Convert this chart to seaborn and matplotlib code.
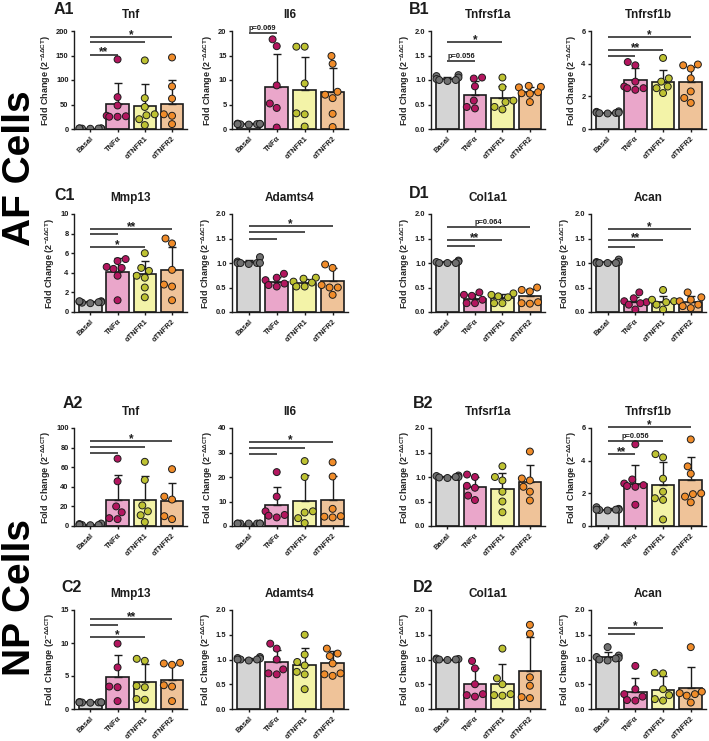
import numpy as np
import pandas as pd
import matplotlib
matplotlib.use('Agg')
import matplotlib.pyplot as plt
import seaborn as sns

# ---------------- categories / colours ----------------
groups = ['Basal', 'TNFα', 'αTNFR1', 'αTNFR2']
bar_colors = ['#D4D4D4', '#F59BCB', '#FFFF9C', '#FDC38B']
dot_colors = ['#707070', '#B3165F', '#BEC232', '#F08C2A']

# ---------------- AF cells ----------------
af_tnf_mean = [1.0, 51, 47.5, 51]
af_tnf_sd = [0.6, 43, 45, 50]
af_tnf_pts = [[0.5, 0.8, 1.0, 1.2, 0.9, 1.1, 1.3], [142, 65, 48, 27, 26, 25, 25],
              [140, 63, 45, 30, 28, 20, 8], [146, 87, 62, 30, 27, 10]]
af_tnf_sig = [(1, 152, '**'), (2, 178, ''), (3, 188, '*')]

af_il6_mean = [1.0, 8.6, 7.9, 7.5]
af_il6_sd = [0.2, 6.8, 6.8, 5.0]
af_il6_pts = [[0.9, 1.0, 1.1, 1.0, 0.95, 1.05, 1.0], [18.3, 16.9, 8.9, 5.2, 4.3, 0.3],
              [16.8, 16.8, 9.3, 3.2, 3.0, 0.5], [14.9, 13.3, 7.6, 7.0, 6.3, 3.1, 0.4]]
af_il6_sig = [(1, 19.5, 'p=0.069')]

af_tnfrsf1a_mean = [1.03, 0.70, 0.63, 0.75]
af_tnfrsf1a_sd = [0.04, 0.27, 0.25, 0.11]
af_tnfrsf1a_pts = [[1.08, 1.10, 1.05, 1.02, 1.00, 1.00, 0.98], [1.05, 1.03, 0.87, 0.58, 0.45, 0.42],
                   [1.05, 0.85, 0.58, 0.55, 0.45, 0.40], [0.88, 0.86, 0.85, 0.75, 0.73, 0.72, 0.55]]
af_tnfrsf1a_sig = [(1, 1.38, 'p=0.056'), (2, 1.78, '*')]

af_tnfrsf1b_mean = [1.0, 2.98, 2.85, 2.9]
af_tnfrsf1b_sd = [0.06, 0.74, 0.77, 0.92]
af_tnfrsf1b_pts = [[1.05, 1.08, 1.0, 0.98, 0.95, 0.97, 1.0], [4.1, 3.9, 2.9, 2.6, 2.5, 2.5, 2.4],
                   [4.35, 3.1, 2.9, 2.6, 2.5, 2.2], [3.95, 3.9, 3.7, 3.1, 2.3, 1.9, 1.6]]
af_tnfrsf1b_sig = [(1, 4.48, ''), (2, 4.85, '**'), (3, 5.62, '*')]

af_mmp13_mean = [1.02, 4.1, 3.85, 4.25]
af_mmp13_sd = [0.1, 1.4, 1.4, 2.35]
af_mmp13_pts = [[1.1, 1.0, 0.95, 1.05, 1.0, 0.9, 1.1], [5.4, 5.2, 4.6, 4.5, 4.4, 3.7, 1.2],
                [6.0, 4.5, 4.2, 3.7, 3.5, 2.5, 1.5], [7.5, 7.0, 4.3, 2.8, 2.6, 1.2]]
af_mmp13_sig = [(1, 7.93, ''), (2, 6.62, '*'), (3, 8.45, '**')]

af_adamts4_mean = [1.02, 0.62, 0.60, 0.64]
af_adamts4_sd = [0.05, 0.10, 0.08, 0.25]
af_adamts4_pts = [[1.12, 1.03, 1.0, 1.0, 1.0, 0.98, 1.0], [0.78, 0.70, 0.65, 0.58, 0.55, 0.52],
                  [0.70, 0.68, 0.62, 0.60, 0.52, 0.52], [0.97, 0.90, 0.55, 0.50, 0.50, 0.35]]
af_adamts4_sig = [(1, 1.49, ''), (2, 1.63, ''), (3, 1.75, '*')]

af_col1a1_mean = [1.02, 0.27, 0.28, 0.32]
af_col1a1_sd = [0.03, 0.10, 0.08, 0.15]
af_col1a1_pts = [[1.05, 1.03, 1.02, 1.0, 1.0, 1.0], [0.40, 0.35, 0.33, 0.25, 0.18, 0.18],
                 [0.38, 0.35, 0.32, 0.30, 0.18, 0.18], [0.50, 0.45, 0.42, 0.20, 0.18, 0.17]]
af_col1a1_sig = [(1, 1.35, ''), (2, 1.47, '**'), (3, 1.73, 'p=0.064')]

af_acan_mean = [1.02, 0.21, 0.20, 0.21]
af_acan_sd = [0.03, 0.10, 0.13, 0.11]
af_acan_pts = [[1.07, 1.02, 1.02, 1.0, 1.0, 1.0, 1.0], [0.40, 0.28, 0.22, 0.20, 0.18, 0.15, 0.05],
               [0.45, 0.25, 0.22, 0.20, 0.15, 0.05], [0.40, 0.30, 0.25, 0.22, 0.15, 0.12, 0.08]]
af_acan_sig = [(1, 1.33, ''), (2, 1.46, '**'), (3, 1.70, '*')]

# ---------------- NP cells ----------------
np_tnf_mean = [1.5, 27, 27, 25.3]
np_tnf_sd = [0.8, 25, 24, 19]
np_tnf_pts = [[1.0, 2.0, 1.5, 2.5, 1.0, 0.8, 1.2], [68.7, 45.6, 20, 14, 8, 7],
              [65.5, 47, 21, 15, 11, 4], [58, 30, 27, 10, 7]]
np_tnf_sig = [(1, 74.5, ''), (2, 80.6, ''), (3, 86.4, '*')]

np_il6_mean = [1.0, 8.5, 10.3, 10.6]
np_il6_sd = [0.1, 7.5, 10.7, 9.9]
np_il6_pts = [[1.0, 1.0, 1.0, 1.0, 1.0, 1.0, 1.0], [22, 12, 6, 4.5, 4.2, 3.5],
              [26.5, 20, 6, 5.5, 3.2, 1.2], [26, 20.2, 7, 4, 3.8, 3.5]]
np_il6_sig = [(1, 29.3, ''), (2, 31.8, ''), (3, 34.3, '*')]

np_tnfrsf1a_mean = [1.0, 0.80, 0.75, 0.90]
np_tnfrsf1a_sd = [0.02, 0.20, 0.33, 0.35]
np_tnfrsf1a_pts = [[1.03, 1.02, 1.0, 1.0, 0.99, 0.98], [1.05, 1.0, 0.82, 0.78, 0.62, 0.53],
                   [1.22, 1.0, 0.93, 0.70, 0.50, 0.28], [1.52, 0.97, 0.93, 0.80, 0.70, 0.52]]
np_tnfrsf1a_sig = []

np_tnfrsf1b_mean = [1.0, 2.6, 2.5, 2.8]
np_tnfrsf1b_sd = [0.08, 1.15, 1.42, 1.4]
np_tnfrsf1b_pts = [[1.15, 1.05, 1.0, 1.0, 0.98, 0.95, 1.0], [5.0, 2.85, 2.6, 2.5, 2.45, 2.4, 1.3],
                   [4.4, 4.2, 2.9, 2.1, 1.7, 1.6, 0.4], [5.3, 3.65, 3.2, 2.0, 1.95, 1.8, 1.45]]
np_tnfrsf1b_sig = [(1, 4.43, '**'), (2, 5.18, 'p=0.056'), (3, 6.06, '*')]

np_mmp13_mean = [1.0, 4.9, 4.1, 4.4]
np_mmp13_sd = [0.05, 3.3, 2.7, 2.3]
np_mmp13_pts = [[1.0, 1.05, 0.95, 1.0, 1.02, 0.98, 1.0], [9.9, 6.3, 3.4, 3.3, 1.2],
                [7.6, 7.3, 3.5, 3.3, 1.5, 1.4], [7.0, 6.9, 6.7, 3.6, 3.4, 1.2]]
np_mmp13_sig = [(1, 12.7, ''), (2, 10.9, '*'), (3, 13.6, '**')]

np_adamts4_mean = [1.0, 0.95, 0.89, 0.92]
np_adamts4_sd = [0.03, 0.25, 0.35, 0.25]
np_adamts4_pts = [[1.05, 1.03, 1.02, 1.0, 1.0, 0.98, 1.0], [1.32, 1.22, 1.0, 0.80, 0.72, 0.70],
                  [1.5, 1.1, 0.95, 0.88, 0.75, 0.70, 0.40], [1.22, 1.12, 1.07, 0.92, 0.72, 0.70, 0.67]]
np_adamts4_sig = []

np_col1a1_mean = [1.0, 0.50, 0.51, 0.77]
np_col1a1_sd = [0.02, 0.32, 0.39, 0.68]
np_col1a1_pts = [[1.02, 1.01, 1.0, 1.0, 1.0, 0.99], [0.97, 0.82, 0.50, 0.30, 0.28, 0.25],
                 [1.22, 0.62, 0.50, 0.30, 0.28, 0.27], [1.70, 1.52, 0.64, 0.47, 0.24, 0.22]]
np_col1a1_sig = []

np_acan_mean = [1.05, 0.35, 0.39, 0.43]
np_acan_sd = [0.10, 0.27, 0.27, 0.41]
np_acan_pts = [[1.25, 1.08, 1.05, 1.03, 1.0, 0.98, 1.02], [0.87, 0.40, 0.30, 0.25, 0.18, 0.17],
               [0.73, 0.72, 0.40, 0.28, 0.20, 0.17], [1.25, 0.35, 0.32, 0.30, 0.27, 0.13]]
np_acan_sig = [(1, 1.52, ''), (2, 1.63, '*')]

titles_row = [['Tnf', 'Il6', 'Tnfrsf1a', 'Tnfrsf1b'],
              ['Mmp13', 'Adamts4', 'Col1a1', 'Acan'],
              ['Tnf', 'Il6', 'Tnfsrf1a', 'Tnfrsf1b'],
              ['Mmp13', 'Adamts4', 'Col1a1', 'Acan']]
panel_letters = ['A1', 'B1', 'C1', 'D1', 'A2', 'B2', 'C2', 'D2']

# ---------------- style ----------------
sns.set_theme(style='ticks')
plt.rcParams['font.family'] = ['Liberation Sans', 'DejaVu Sans']
plt.rcParams['font.weight'] = 'bold'
plt.rcParams['mathtext.fontset'] = 'custom'
plt.rcParams['mathtext.rm'] = 'Liberation Sans:bold'
plt.rcParams['mathtext.bf'] = 'Liberation Sans:bold'
plt.rcParams['mathtext.it'] = 'Liberation Sans:bold:italic'
plt.rcParams['mathtext.sf'] = 'Liberation Sans:bold'
INK = '#1c1c1c'

W, H = 709, 741
fig = plt.figure(figsize=(W / 100, H / 100), dpi=100)

col_x = [(74, 187), (232, 348), (431, 545), (591, 706)]
row_y = [(31, 129), (214, 312), (428, 526), (610, 709)]

ylab_af = 'Fold Change (2$^{\\mathbf{-\\Delta\\Delta CT}}$)'
ylab_np = 'Fold  Change (2$^{\\mathbf{-\\Delta\\Delta CT}}$)'

panels = [
    # row 0
    dict(mean=af_tnf_mean, sd=af_tnf_sd, pts=af_tnf_pts, sig=af_tnf_sig, top=200, step=50, dec=0, yl=ylab_af),
    dict(mean=af_il6_mean, sd=af_il6_sd, pts=af_il6_pts, sig=af_il6_sig, top=20, step=5, dec=0, yl=ylab_af),
    dict(mean=af_tnfrsf1a_mean, sd=af_tnfrsf1a_sd, pts=af_tnfrsf1a_pts, sig=af_tnfrsf1a_sig, top=2.0, step=0.5, dec=1, yl=ylab_af),
    dict(mean=af_tnfrsf1b_mean, sd=af_tnfrsf1b_sd, pts=af_tnfrsf1b_pts, sig=af_tnfrsf1b_sig, top=6, step=2, dec=0, yl=ylab_af),
    # row 1
    dict(mean=af_mmp13_mean, sd=af_mmp13_sd, pts=af_mmp13_pts, sig=af_mmp13_sig, top=10, step=2, dec=0, yl=ylab_af),
    dict(mean=af_adamts4_mean, sd=af_adamts4_sd, pts=af_adamts4_pts, sig=af_adamts4_sig, top=2.0, step=0.5, dec=1, yl=ylab_af),
    dict(mean=af_col1a1_mean, sd=af_col1a1_sd, pts=af_col1a1_pts, sig=af_col1a1_sig, top=2.0, step=0.5, dec=1, yl=ylab_af),
    dict(mean=af_acan_mean, sd=af_acan_sd, pts=af_acan_pts, sig=af_acan_sig, top=2.0, step=0.5, dec=1, yl=ylab_af),
    # row 2
    dict(mean=np_tnf_mean, sd=np_tnf_sd, pts=np_tnf_pts, sig=np_tnf_sig, top=100, step=20, dec=0, yl=ylab_np),
    dict(mean=np_il6_mean, sd=np_il6_sd, pts=np_il6_pts, sig=np_il6_sig, top=40, step=10, dec=0, yl=ylab_np),
    dict(mean=np_tnfrsf1a_mean, sd=np_tnfrsf1a_sd, pts=np_tnfrsf1a_pts, sig=np_tnfrsf1a_sig, top=2.0, step=0.5, dec=1, yl=ylab_np),
    dict(mean=np_tnfrsf1b_mean, sd=np_tnfrsf1b_sd, pts=np_tnfrsf1b_pts, sig=np_tnfrsf1b_sig, top=6, step=2, dec=0, yl=ylab_np),
    # row 3
    dict(mean=np_mmp13_mean, sd=np_mmp13_sd, pts=np_mmp13_pts, sig=np_mmp13_sig, top=15, step=5, dec=0, yl=ylab_np),
    dict(mean=np_adamts4_mean, sd=np_adamts4_sd, pts=np_adamts4_pts, sig=np_adamts4_sig, top=2.0, step=0.5, dec=1, yl=ylab_np),
    dict(mean=np_col1a1_mean, sd=np_col1a1_sd, pts=np_col1a1_pts, sig=np_col1a1_sig, top=2.0, step=0.5, dec=1, yl=ylab_np),
    dict(mean=np_acan_mean, sd=np_acan_sd, pts=np_acan_pts, sig=np_acan_sig, top=2.0, step=0.5, dec=1, yl=ylab_np),
]


def draw_panel(ax, p):
    bars = pd.DataFrame({'group': groups, 'value': p['mean']})
    sns.barplot(data=bars, x='group', y='value', hue='group', order=groups, hue_order=groups,
                palette=bar_colors, width=0.82, edgecolor=INK, linewidth=1.2,
                errorbar=None, legend=False, ax=ax, zorder=1)
    ax.errorbar(np.arange(len(groups)), p['mean'], yerr=[np.zeros(len(groups)), p['sd']],
                fmt='none', ecolor=INK, elinewidth=1.0, capsize=3.2, capthick=1.0, zorder=3)
    rows = [(g, v) for g, vals in zip(groups, p['pts']) for v in vals]
    dots = pd.DataFrame(rows, columns=['group', 'value'])
    n0 = len(ax.collections)
    sns.swarmplot(data=dots, x='group', y='value', hue='group', order=groups, hue_order=groups,
                  palette=dot_colors, size=5.0, edgecolor=INK, linewidth=0.7,
                  legend=False, warn_thresh=1, ax=ax)
    for c in ax.collections[n0:]:
        c.set_zorder(4)

    ax.set_xlim(-0.6, 3.55)
    ax.set_ylim(0, p['top'])
    ticks = np.arange(0, p['top'] + p['step'] / 2, p['step'])
    ax.set_yticks(ticks)
    ax.set_yticklabels([f"{t:.{p['dec']}f}" for t in ticks])
    ax.set_xticks(range(len(groups)))
    ax.set_xticklabels(groups, rotation=45, ha='right', va='top', rotation_mode='anchor',
                       fontsize=6.2, fontweight='bold')
    ax.set_xlabel('')
    ax.set_ylabel(p['yl'], fontsize=6.5, fontweight='bold', labelpad=2)
    sns.despine(ax=ax)
    for s in ['left', 'bottom']:
        ax.spines[s].set_linewidth(1.0)
        ax.spines[s].set_color(INK)
    ax.tick_params(length=2.4, width=1.0, pad=1.5, labelsize=5.4, colors=INK)
    ax.tick_params(axis='x', pad=2)
    for t, y, lab in p['sig']:
        ax.plot([0, t], [y, y], color=INK, lw=1.1, clip_on=False, zorder=5,
                solid_capstyle='butt')
        if lab.startswith('*'):
            ax.annotate(lab, xy=(t / 2, y), xytext=(0, -0.8), textcoords='offset points',
                        ha='center', va='baseline', fontsize=8.5, fontweight='bold',
                        color=INK, annotation_clip=False)
        elif lab:
            ax.annotate(lab, xy=(t / 2, y), xytext=(0, 2.3), textcoords='offset points',
                        ha='center', va='baseline', fontsize=5.4, fontweight='bold',
                        color=INK, annotation_clip=False)


for i, p in enumerate(panels):
    r, c = divmod(i, 4)
    (x0, x1), (y0, y1) = col_x[c], row_y[r]
    ax = fig.add_axes([x0 / W, 1 - y1 / H, (x1 - x0) / W, (y1 - y0) / H])
    draw_panel(ax, p)
    fig.text((x0 + x1) / 2 / W, 1 - (y0 - 16) / H, titles_row[r][c], ha='center', va='center',
             fontsize=8.5, fontweight='bold', color=INK)

letter_pos = [(54, 9), (409, 9), (54, 195), (409, 193), (63, 403), (413, 403), (61, 587), (413, 588)]
for lab, (lx, ly) in zip(panel_letters, letter_pos):
    fig.text(lx / W, 1 - ly / H, lab, ha='left', va='center', fontsize=11.5, fontweight='bold', color=INK)

fig.text(20 / W, 1 - 168 / H, 'AF Cells', rotation=90, ha='center', va='center',
         fontsize=28, fontweight='bold', color='black')
fig.text(20 / W, 1 - 597 / H, 'NP Cells', rotation=90, ha='center', va='center',
         fontsize=28, fontweight='bold', color='black')

fig.savefig('out.png', dpi=100, facecolor='white')
